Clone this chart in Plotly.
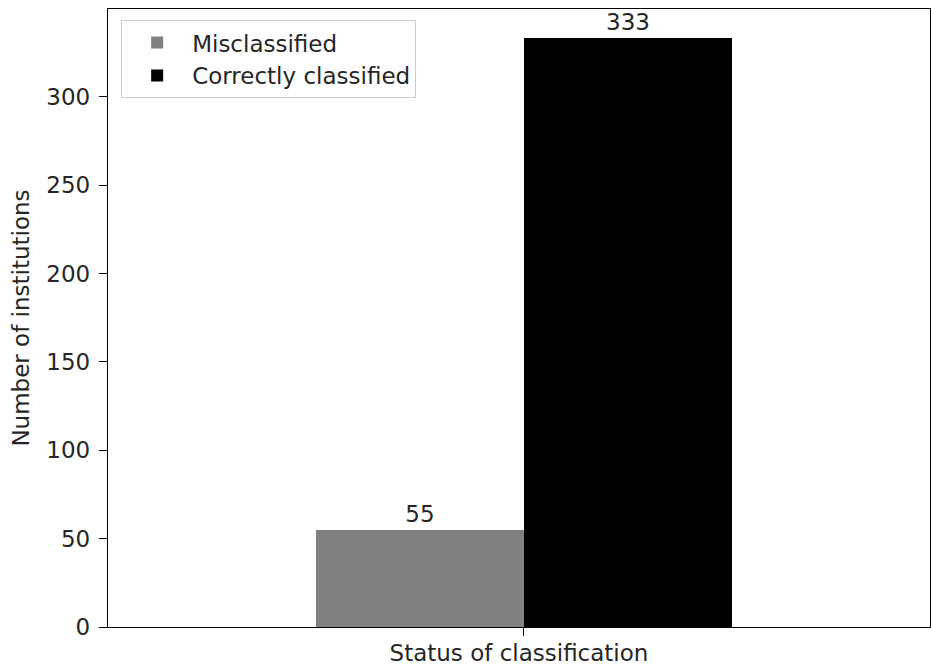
import plotly.graph_objects as go

series_names = ["Misclassified", "Correctly classified"]
series_values = [55, 333]
series_colors = ["#808080", "#000000"]
bar_offsets = [-0.125, 0.125]
bar_width = 0.25
y_ticks = [0, 50, 100, 150, 200, 250, 300]

FONT = "DejaVu Sans"
FS = 23
TXT = "#262626"
fig = go.Figure()
for name, val, col, off in zip(series_names, series_values, series_colors, bar_offsets):
    fig.add_trace(go.Bar(
        x=[off], y=[val], width=[bar_width], name=name,
        marker=dict(color=col, line=dict(width=0)),
        text=[str(val)], textposition="outside", cliponaxis=False,
        textfont=dict(family=FONT, size=FS, color=TXT),
    ))

fig.update_layout(
    width=931, height=667, autosize=False,
    margin=dict(l=108, r=1, t=9, b=40),
    plot_bgcolor="white", paper_bgcolor="white",
    font=dict(family=FONT, size=FS, color=TXT),
    bargap=0, barmode="overlay",
    showlegend=True,
    legend=dict(x=0.016, y=0.982, xanchor="left", yanchor="top",
                bgcolor="rgba(255,255,255,0.8)", bordercolor="#cccccc", borderwidth=1,
                font=dict(family=FONT, size=FS, color=TXT),
                itemsizing="constant", itemwidth=60, tracegroupgap=2),
)
fig.update_xaxes(
    range=[-0.5, 0.488], tickvals=[0], ticktext=[""], ticks="outside", ticklen=8,
    tickcolor="black", showline=True, linecolor="black", linewidth=1.3, mirror=True,
    showgrid=False, zeroline=False, automargin=False,
    title=dict(text="Status of classification", standoff=5,
               font=dict(family=FONT, size=FS, color=TXT)),
)
fig.update_yaxes(
    range=[0, 349.65], tickvals=y_ticks, ticks="outside", ticklen=8,
    tickcolor="black", showline=True, linecolor="black", linewidth=1.3, mirror=True,
    showgrid=False, zeroline=False, automargin=False, ticklabelstandoff=4,
    title=dict(text="Number of institutions", standoff=10,
               font=dict(family=FONT, size=FS, color=TXT)),
)
fig.write_html(
    "out.html",
    config={"responsive": False, "displayModeBar": False},
    post_script="document.body.style.margin='0px';document.body.style.overflow='hidden';",
)
